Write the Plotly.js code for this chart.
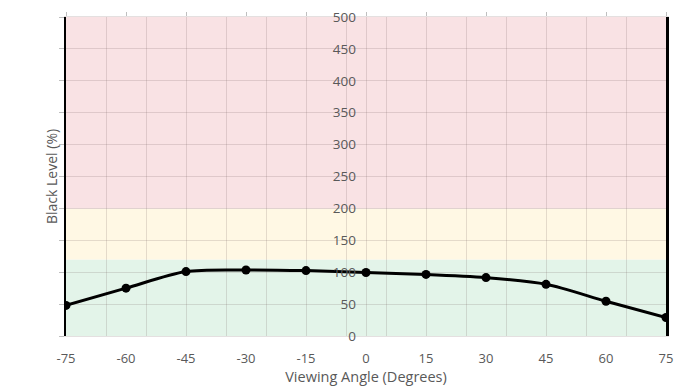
<!DOCTYPE html>
<html>
<head>
<meta charset="utf-8">
<script src="https://cdn.plot.ly/plotly-3.0.1.min.js"></script>
<style>html,body{margin:0;padding:0;background:#fff}#chart{width:692px;height:390px}</style>
</head>
<body>
<div id="chart"></div>
<script>
// Data
var angles = [-75, -60, -45, -30, -15, 0, 15, 30, 45, 60, 75];
var blackLevel = [48, 75, 101, 103.5, 102.5, 99.5, 96.5, 91.5, 81, 54.5, 29];
var xTickVals = [-75, -60, -45, -30, -15, 0, 15, 30, 45, 60, 75];
var xGridVals = [-65, -55, -45, -35, -25, -15, -5, 0, 5, 15, 25, 35, 45, 55, 65];
var yTickVals = [0, 50, 100, 150, 200, 250, 300, 350, 400, 450, 500];
// Zone bands (value ranges)
var zoneLimits = [0, 120, 200, 500];
var zoneColors = ['rgb(227,244,233)', 'rgb(255,248,228)', 'rgb(249,226,228)'];

var gridColor = 'rgba(120,100,100,0.2)';
var textColor = '#595959';
var font = {family: 'Open Sans, sans-serif', size: 13, color: textColor};

var shapes = [];
for (var i = 0; i < zoneColors.length; i++) {
  shapes.push({type: 'rect', xref: 'paper', yref: 'y', x0: 0, x1: 1,
    y0: zoneLimits[i], y1: zoneLimits[i + 1], fillcolor: zoneColors[i],
    line: {width: 0}, layer: 'below'});
}

var traces = [
  {x: angles, y: blackLevel, type: 'scatter', mode: 'lines+markers',
   line: {color: '#000', width: 3, shape: 'spline', smoothing: 0.8},
   marker: {color: '#000', size: 9}, hoverinfo: 'x+y', xaxis: 'x', yaxis: 'y'},
  {x: [], y: [], type: 'scatter', xaxis: 'x2', yaxis: 'y', showlegend: false},
  {x: [], y: [], type: 'scatter', xaxis: 'x3', yaxis: 'y', showlegend: false},
  {x: [], y: [], type: 'scatter', xaxis: 'x', yaxis: 'y2', showlegend: false}
];

var layout = {
  width: 692, height: 390,
  margin: {l: 66, r: 26, t: 17, b: 54},
  paper_bgcolor: '#fff', plot_bgcolor: 'rgba(0,0,0,0)',
  showlegend: false, font: font,
  shapes: shapes,
  annotations: [{text: 'Black Level (%)', xref: 'paper', yref: 'paper', x: 0, y: 0.5,
    xanchor: 'right', yanchor: 'middle', xshift: -3, textangle: -90, showarrow: false,
    font: {family: 'Open Sans, sans-serif', size: 14, color: textColor}}],
  xaxis: {range: [-75, 75], tickvals: xTickVals, ticktext: xTickVals.map(String),
    showgrid: false, zeroline: false, showline: true, linecolor: gridColor, linewidth: 1,
    ticks: '', ticklabelstandoff: 10, tickfont: font,
    title: {text: 'Viewing Angle (Degrees)', font: {family: 'Open Sans, sans-serif', size: 14.5, color: textColor}, standoff: 4}},
  xaxis2: {overlaying: 'x', side: 'top', range: [-75, 75], tickvals: xTickVals,
    showticklabels: false, showgrid: false, zeroline: false, showline: true, linecolor: gridColor,
    ticks: 'outside', ticklen: 4, tickcolor: 'rgba(0,0,0,0.25)', anchor: 'y'},
  xaxis3: {overlaying: 'x', range: [-75, 75], tickvals: xGridVals, showticklabels: false,
    showgrid: true, gridcolor: gridColor, gridwidth: 1, zeroline: false, showline: false, ticks: '', anchor: 'y'},
  yaxis: {range: [0, 500], tickvals: yTickVals, showticklabels: false,
    showgrid: true, gridcolor: gridColor, zeroline: false,
    showline: true, linecolor: '#000', linewidth: 2.5, mirror: true,
    ticks: 'outside', ticklen: 5, tickcolor: 'rgba(0,0,0,0.25)'},
  yaxis2: {overlaying: 'y', anchor: 'free', position: 0.5, side: 'left',
    range: [0, 500], tickvals: yTickVals, showgrid: false, zeroline: false, showline: false,
    ticks: '', ticklabelstandoff: 10, tickfont: {family: 'Open Sans, sans-serif', size: 13.5, color: textColor}}
};

Plotly.newPlot('chart', traces, layout, {displayModeBar: false, staticPlot: true});
</script>
</body>
</html>
